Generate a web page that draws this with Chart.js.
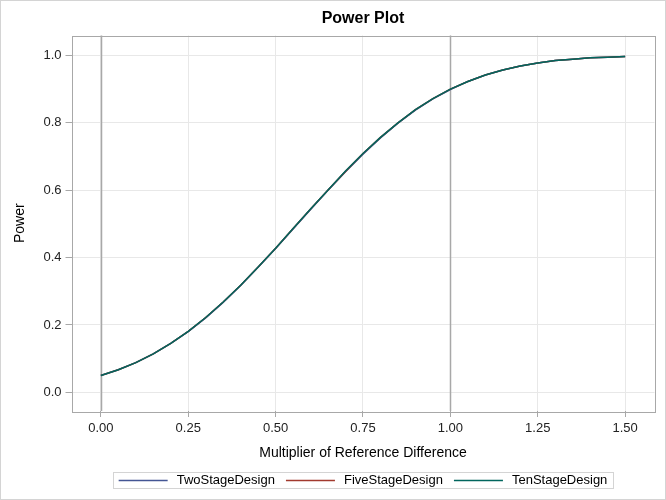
<!DOCTYPE html>
<html>
<head>
<meta charset="utf-8">
<script src="https://cdn.jsdelivr.net/npm/chart.js@4.4.1/dist/chart.umd.min.js"></script>
<style>
  html,body{margin:0;padding:0;background:#fff;}
  #wrap{width:666px;height:500px;}
</style>
</head>
<body>
<div id="wrap"><canvas id="chart-power" width="666" height="500"></canvas></div>
<script>
// values
const multiplier=[0,0.05,0.10,0.15,0.20,0.25,0.30,0.35,0.40,0.45,0.50,0.55,0.60,0.65,0.70,0.75,
  0.80,0.85,0.90,0.95,1.00,1.05,1.10,1.15,1.20,1.25,1.30,1.35,1.40,1.45,1.50];
const twoStage=[0.050,0.067,0.088,0.114,0.145,0.180,0.221,0.267,0.317,0.371,0.427,0.485,0.543,0.600,
  0.655,0.707,0.755,0.799,0.838,0.871,0.899,0.923,0.942,0.957,0.969,0.978,0.985,0.989,0.993,0.995,0.997];
const fiveStage=[0.050,0.067,0.088,0.114,0.145,0.181,0.222,0.268,0.318,0.372,0.428,0.486,0.544,0.601,
  0.656,0.709,0.757,0.800,0.839,0.872,0.900,0.923,0.942,0.957,0.969,0.978,0.985,0.989,0.993,0.995,0.997];
const tenStage=[0.050,0.067,0.088,0.114,0.145,0.181,0.222,0.268,0.318,0.372,0.428,0.486,0.544,0.601,
  0.657,0.709,0.757,0.800,0.839,0.872,0.900,0.923,0.942,0.957,0.969,0.978,0.985,0.989,0.993,0.995,0.997];
const xTicks=[0,0.25,0.5,0.75,1,1.25,1.5];
const yTicks=[0,0.2,0.4,0.6,0.8,1.0];
const refLines=[0,1];

const FONT='"Liberation Sans", Arial, sans-serif';
const ctx=document.getElementById('chart-power');

const pts=ys=>multiplier.map((x,i)=>({x,y:ys[i]}));

const decor={
  id:'decor',
  beforeDraw(chart){
    const c=chart.ctx;
    c.save();
    c.fillStyle='#fff';
    c.fillRect(0,0,chart.width,chart.height);
    c.restore();
  },
  beforeDatasetsDraw(chart){
    const c=chart.ctx, a=chart.chartArea, xs=chart.scales.x;
    c.save();
    c.strokeStyle='#a8a8a8';
    c.lineWidth=1.5;
    refLines.forEach(v=>{
      const px=Math.round(xs.getPixelForValue(v))+0.5;
      c.beginPath();c.moveTo(px,a.top);c.lineTo(px,a.bottom);c.stroke();
    });
    c.restore();
  },
  afterDraw(chart){
    const c=chart.ctx, a=chart.chartArea;
    c.save();
    // plot frame
    c.strokeStyle='#a8a8a8';
    c.lineWidth=1;
    c.strokeRect(Math.round(a.left)+0.5,Math.round(a.top)+0.5,Math.round(a.right-a.left),Math.round(a.bottom-a.top));
    // outer border
    c.strokeStyle='#d4d4d4';
    c.strokeRect(0.5,0.5,chart.width-1,chart.height-1);
    // title
    c.fillStyle='#000';
    c.textAlign='center';c.textBaseline='middle';
    c.font='bold 16px '+FONT;
    c.fillText('Power Plot',(a.left+a.right)/2,19);
    // axis titles
    c.font='14px '+FONT;
    c.fillText('Multiplier of Reference Difference',(a.left+a.right)/2,453);
    c.save();
    c.translate(20,(a.top+a.bottom)/2);
    c.rotate(-Math.PI/2);
    c.fillText('Power',0,0);
    c.restore();
    // legend
    c.font='13px '+FONT;
    const ds=chart.data.datasets;
    const lineW=49, gapT=9, gapI=11, pad=5.5;
    const widths=ds.map(d=>c.measureText(d.label).width);
    const total=widths.reduce((s,w)=>s+lineW+gapT+w,0)+gapI*(ds.length-1);
    const cx=363;
    let x=cx-total/2;
    const top=472.5, bot=488.5, mid=(top+bot)/2;
    c.strokeStyle='#d4d4d4';
    c.strokeRect(Math.round(x-pad)+0.5,top,Math.round(total+2*pad),bot-top);
    c.textAlign='left';
    ds.forEach((d,i)=>{
      c.strokeStyle=d.borderColor;
      c.lineWidth=1.5;
      c.beginPath();c.moveTo(x,mid);c.lineTo(x+lineW,mid);c.stroke();
      x+=lineW+gapT;
      c.fillStyle='#000';
      c.fillText(d.label,x,mid);
      x+=widths[i]+gapI;
    });
    c.restore();
  }
};

new Chart(ctx,{
  type:'line',
  data:{datasets:[
    {label:'TwoStageDesign',data:pts(twoStage),borderColor:'#445694',order:3},
    {label:'FiveStageDesign',data:pts(fiveStage),borderColor:'#A23A2E',order:2},
    {label:'TenStageDesign',data:pts(tenStage),borderColor:'#01665E',order:1}
  ]},
  options:{
    responsive:false,
    animation:false,
    devicePixelRatio:1,
    layout:{padding:{top:35.5,right:11.5,bottom:0,left:0}},
    elements:{point:{radius:0},line:{borderWidth:1.5,tension:0,fill:false}},
    plugins:{legend:{display:false},title:{display:false},tooltip:{enabled:false}},
    scales:{
      x:{
        type:'linear',min:-0.084,max:1.584,
        afterFit:s=>{s.height=89;},
        afterBuildTicks:s=>{s.ticks=xTicks.map(v=>({value:v}));},
        border:{display:false},
        grid:{color:'#e8e8e8',tickColor:'#a8a8a8',tickLength:6},
        ticks:{padding:4,color:'#222',font:{family:FONT,size:13},maxRotation:0,
          callback:v=>Number(v).toFixed(2)}
      },
      y:{
        type:'linear',min:-0.0555,max:1.0594,
        afterFit:s=>{s.width=71.5;},
        afterBuildTicks:s=>{s.ticks=yTicks.map(v=>({value:v}));},
        border:{display:false},
        grid:{color:'#e8e8e8',tickColor:'#a8a8a8',tickLength:6},
        ticks:{padding:4,color:'#222',font:{family:FONT,size:13},
          callback:v=>Number(v).toFixed(1)}
      }
    }
  },
  plugins:[decor]
});
</script>
</body>
</html>
